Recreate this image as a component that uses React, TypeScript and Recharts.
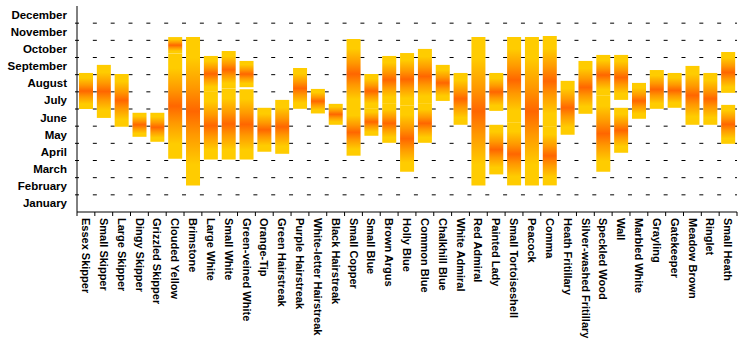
import { BarChart, Bar, XAxis, YAxis, CartesianGrid } from 'recharts'

// months as 0..12 (0 = 1 January), each bar is one or two flight periods
const butterflies = [
  'Essex Skipper', 'Small Skipper', 'Large Skipper', 'Dingy Skipper', 'Grizzled Skipper',
  'Clouded Yellow', 'Brimstone', 'Large White', 'Small White', 'Green-veined White',
  'Orange-Tip', 'Green Hairstreak', 'Purple Hairstreak', 'White-letter Hairstreak', 'Black Hairstreak',
  'Small Copper', 'Small Blue', 'Brown Argus', 'Holly Blue', 'Common Blue',
  'Chalkhill Blue', 'White Admiral', 'Red Admiral', 'Painted Lady', 'Small Tortoiseshell',
  'Peacock', 'Comma', 'Heath Fritillary', 'Silver-washed Fritillary', 'Speckled Wood',
  'Wall', 'Marbled White', 'Grayling', 'Gatekeeper', 'Meadow Brown',
  'Ringlet', 'Small Heath',
]

const firstFrom = [
  6.0, 5.48, 4.96, 4.38, 4.09,
  3.1, 1.55, 3.06, 3.06, 3.06,
  3.51, 3.39, 6.01, 5.74, 5.08,
  3.28, 4.44, 4.03, 2.34, 4.03,
  6.47, 5.08, 1.55, 2.19, 1.55,
  1.55, 1.55, 4.5, 5.72, 2.34,
  3.45, 5.43, 6.01, 6.07, 5.08,
  5.08, 3.97,
]
const firstTo = [
  8.1, 8.57, 8.04, 5.78, 5.78,
  9.24, 10.19, 7.0, 7.2, 7.15,
  6.07, 6.53, 8.39, 7.17, 6.3,
  6.0, 6.05, 6.3, 6.2, 6.3,
  8.57, 8.1, 10.19, 5.08, 5.2,
  10.19, 5.0, 7.64, 8.8, 6.8,
  6.07, 7.52, 8.27, 8.1, 8.51,
  8.1, 6.24,
]
const secondFrom: (number | null)[] = [
  null, null, null, null, null,
  9.24, null, 7.0, 7.2, 7.27,
  null, null, null, null, null,
  6.0, 6.05, 6.3, 6.2, 6.3,
  null, null, null, 5.89, 5.2,
  null, 5.0, null, null, 6.8,
  6.53, null, null, null, null,
  null, 6.94,
]
const secondTo: (number | null)[] = [
  null, null, null, null, null,
  10.19, null, 9.09, 9.38, 8.8,
  null, null, null, null, null,
  10.08, 8.04, 9.09, 9.26, 9.5,
  null, null, null, 8.1, 10.19,
  null, 10.25, null, null, 9.15,
  9.15, null, null, null, null,
  null, 9.32,
]

const months = [
  'January', 'February', 'March', 'April', 'May', 'June',
  'July', 'August', 'September', 'October', 'November', 'December',
]

const data = butterflies.map((name, i) => {
  const s = secondFrom[i]
  const e = secondTo[i]
  return {
    name,
    base: firstFrom[i],
    first: firstTo[i] - firstFrom[i],
    gap: s != null ? s - firstTo[i] : 0,
    second: s != null && e != null ? e - s : 0,
  }
})

const W = 750
const H = 350
const AXIS_W = 77
const AXIS_H = 138
const RIGHT = 13
const PLOT_W = W - AXIS_W - RIGHT
const band = PLOT_W / butterflies.length

const yTicks = months.flatMap((_, i) => (i === 0 ? [0.5] : [i, i + 0.5]))
const gridValues = months.slice(1).map((_, i) => i + 1)

const font = '"Liberation Sans", Arial, sans-serif'

function MonthTick({ x, y, payload }: any) {
  const v = payload.value as number
  if (Number.isInteger(v)) {
    return <line x1={x - 2} x2={x} y1={y} y2={y} stroke="#000" />
  }
  return (
    <text x={x - 10} y={y} dy="0.35em" textAnchor="end" fontSize={11.5} fontWeight="bold" fill="#000" fontFamily={font}>
      {months[Math.floor(v)]}
    </text>
  )
}

function NameTick({ x, y, payload, index, visibleTicksCount }: any) {
  const half = band / 2
  const last = index === (visibleTicksCount ?? butterflies.length) - 1
  return (
    <g>
      <line x1={x - half} x2={x - half} y1={y} y2={y + 4} stroke="#000" />
      {last && <line x1={x + half} x2={x + half} y1={y} y2={y + 4} stroke="#000" />}
      <text
        transform={`translate(${x},${y + 6}) rotate(90)`}
        dy="0.35em"
        textAnchor="start"
        fontSize={11}
        fontWeight="bold"
        fill="#000"
        fontFamily={font}
      >
        {payload.value}
      </text>
    </g>
  )
}

export default function App() {
  return (
    <div style={{ position: 'absolute', left: 0, top: 0, background: '#fff' }}>
      <BarChart
        width={W}
        height={H}
        data={data}
        margin={{ top: 6, right: RIGHT, bottom: 0, left: 0 }}
        barSize={14}
      >
        <defs>
          <linearGradient id="flight" x1="0" y1="0" x2="0" y2="1">
            <stop offset="0%" stopColor="#FFCC00" />
            <stop offset="14%" stopColor="#FFCC00" />
            <stop offset="34%" stopColor="#FF9900" />
            <stop offset="50%" stopColor="#FF6600" />
            <stop offset="66%" stopColor="#FF9900" />
            <stop offset="86%" stopColor="#FFCC00" />
            <stop offset="100%" stopColor="#FFCC00" />
          </linearGradient>
        </defs>
        <CartesianGrid
          vertical={false}
          horizontalValues={gridValues}
          stroke="#000"
          strokeDasharray={`4 ${band - 4}`}
          strokeDashoffset={2}
        />
        <XAxis
          dataKey="name"
          height={AXIS_H}
          interval={0}
          tickLine={false}
          tickSize={0}
          tickMargin={0}
          axisLine={{ stroke: '#000' }}
          tick={<NameTick />}
        />
        <YAxis
          type="number"
          domain={[0, 12]}
          ticks={yTicks}
          interval={0}
          width={AXIS_W}
          tickLine={false}
          tickSize={0}
          tickMargin={0}
          axisLine={{ stroke: '#000' }}
          tick={<MonthTick />}
        />
        <Bar dataKey="base" stackId="a" fill="transparent" isAnimationActive={false} />
        <Bar dataKey="first" stackId="a" fill="url(#flight)" isAnimationActive={false} />
        <Bar dataKey="gap" stackId="a" fill="transparent" isAnimationActive={false} />
        <Bar dataKey="second" stackId="a" fill="url(#flight)" isAnimationActive={false} />
      </BarChart>
    </div>
  )
}
